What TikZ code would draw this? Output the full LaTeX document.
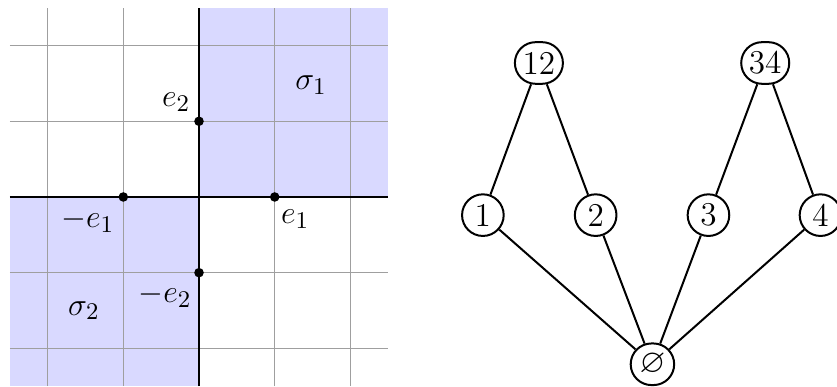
\documentclass[tikz,border=0pt,11pt]{standalone}
\usepackage{amssymb}
\usetikzlibrary{shapes.misc}
\begin{document}
\begin{tikzpicture}[font=\fontsize{12.5}{15}\selectfont,
  gridline/.style={gray!75, line width=0.4pt},
  axisline/.style={black, line width=0.8pt},
  conefill/.style={fill=blue!15},
  dotmark/.style={circle, fill=black, inner sep=0pt, minimum size=3.6pt},
  setnode/.style={draw, line width=0.75pt, circle, inner sep=1pt, minimum size=0.55cm},
  pairnode/.style={draw, line width=0.75pt, rounded rectangle, inner sep=1.5pt, minimum height=0.55cm, minimum width=0.74cm},
  hasse/.style={line width=0.75pt}]
\useasboundingbox (-2.629,-2.51) rectangle (8.428,2.602);
% cones
\fill[conefill] (0,0) rectangle (2.5,2.5);
\fill[conefill] (-2.5,-2.5) rectangle (0,0);
% grid
\draw[gridline] (-2.5,-2.5) grid (2.5,2.5);
% axes
\draw[axisline] (-2.5,0) -- (2.5,0);
\draw[axisline] (0,-2.5) -- (0,2.5);
% points
\node[dotmark] (pe1) at (1,0) {};
\node[dotmark] (pme1) at (-1,0) {};
\node[dotmark] (pe2) at (0,1) {};
\node[dotmark] (pme2) at (0,-1) {};
% labels
\node (le2) at (-0.30,1.25) {$e_2$};
\node (le1) at (1.27,-0.29) {$e_1$};
\node (lme1) at (-1.47,-0.31) {$-e_1$};
\node (lme2) at (-0.45,-1.30) {$-e_2$};
\node (ls1) at (1.48,1.48) {$\sigma_1$};
\node (ls2) at (-1.52,-1.50) {$\sigma_2$};
% Hasse diagram
\node[pairnode] (n12) at (4.49,1.77) {12};
\node[pairnode] (n34) at (7.48,1.77) {34};
\node[setnode] (n1) at (3.75,-0.24) {1};
\node[setnode] (n2) at (5.24,-0.24) {2};
\node[setnode] (n3) at (6.73,-0.24) {3};
\node[setnode] (n4) at (8.21,-0.24) {4};
\node[pairnode, minimum width=0.68cm] (n0) at (5.99,-2.21) {$\varnothing$};
\draw[hasse] (n12) -- (n1);
\draw[hasse] (n12) -- (n2);
\draw[hasse] (n34) -- (n3);
\draw[hasse] (n34) -- (n4);
\draw[hasse] (n0) -- (n1);
\draw[hasse] (n0) -- (n2);
\draw[hasse] (n0) -- (n3);
\draw[hasse] (n0) -- (n4);
\end{tikzpicture}
\end{document}
